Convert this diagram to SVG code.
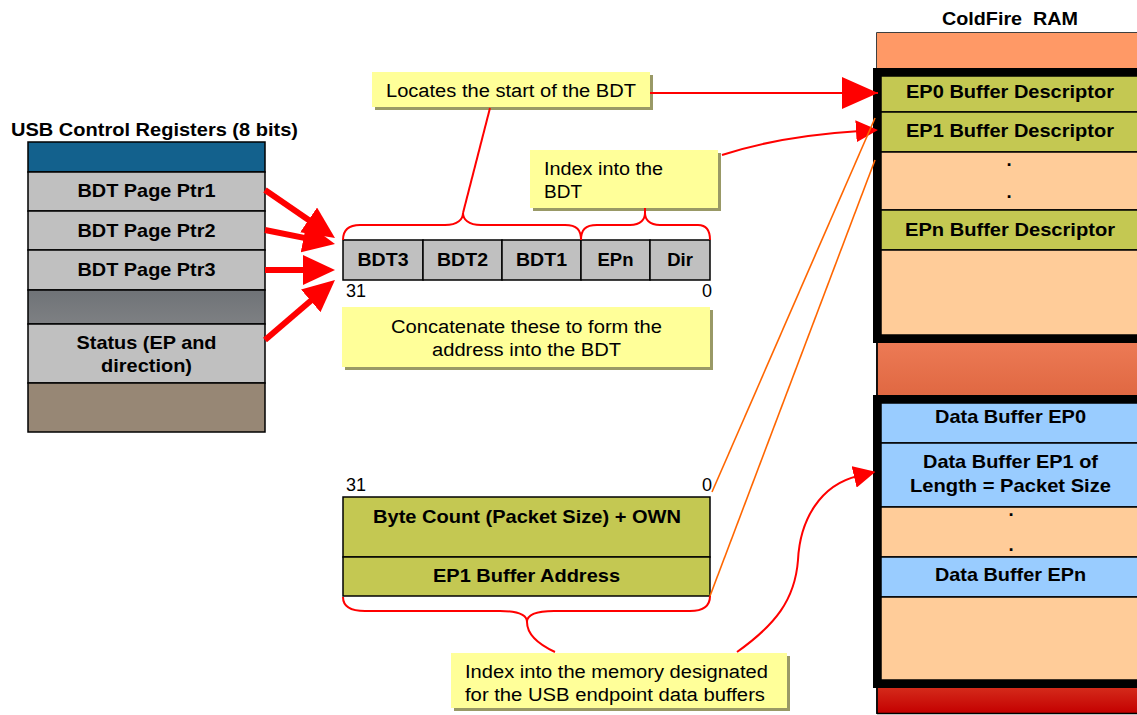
<svg xmlns="http://www.w3.org/2000/svg" width="1137" height="715" viewBox="0 0 1137 715">
<style>
.b{font-family:"Liberation Sans",Arial,sans-serif;font-weight:bold;font-size:18.5px;fill:#000;text-anchor:middle}
.r{font-family:"Liberation Sans",Arial,sans-serif;font-size:18px;fill:#000}
.c{text-anchor:middle}
.cell{stroke:#000;stroke-width:1.5}
.call{fill:#ffff99}
.shad{fill:#999966}
.red{fill:none;stroke:#ff0000;stroke-width:2}
.fat{fill:none;stroke:#ff0000;stroke-width:6}
.org{fill:none;stroke:#ff6600;stroke-width:1.6}
.frame{fill:none;stroke:#000;stroke-width:8}
</style>
<defs>
<marker id="big" markerUnits="userSpaceOnUse" markerWidth="32" markerHeight="30" refX="12" refY="15" orient="auto"><path d="M0,0 L32,15 L0,30 z" fill="#ff0000"/></marker>
<marker id="ep0" markerUnits="userSpaceOnUse" markerWidth="36" markerHeight="32" refX="36" refY="16" orient="auto"><path d="M0,0 L36,16 L0,32 z" fill="#ff0000"/></marker>
<marker id="sm" markerUnits="userSpaceOnUse" markerWidth="22" markerHeight="22" refX="4" refY="11" orient="auto"><path d="M0,0 L22,11 L0,22 z" fill="#ff0000"/></marker>
<linearGradient id="midg" x1="0" y1="0" x2="0" y2="1"><stop offset="0" stop-color="#ec7a55"/><stop offset="1" stop-color="#e06842"/></linearGradient>
<linearGradient id="botg" x1="0" y1="0" x2="0" y2="1"><stop offset="0" stop-color="#d42a1a"/><stop offset="1" stop-color="#c40000"/></linearGradient>
<linearGradient id="grayg" x1="0" y1="0" x2="0" y2="1"><stop offset="0" stop-color="#6f7377"/><stop offset="1" stop-color="#7e8083"/></linearGradient>
</defs>

<g id="usb-registers">
<text class="b" x="154.5" y="136" textLength="287" lengthAdjust="spacingAndGlyphs">USB Control Registers (8 bits)</text>
<rect class="cell" x="28" y="142" width="237" height="30" fill="#13618d"/>
<rect class="cell" x="28" y="172" width="237" height="39" fill="#c0c0c0"/>
<rect class="cell" x="28" y="211" width="237" height="39" fill="#c0c0c0"/>
<rect class="cell" x="28" y="250" width="237" height="40" fill="#c0c0c0"/>
<rect class="cell" x="28" y="290" width="237" height="34" fill="url(#grayg)"/>
<rect class="cell" x="28" y="324" width="237" height="59" fill="#c0c0c0"/>
<rect class="cell" x="28" y="383" width="237" height="49" fill="#978775"/>
<text class="b" x="146.5" y="197" textLength="138" lengthAdjust="spacingAndGlyphs">BDT Page Ptr1</text>
<text class="b" x="146.5" y="237" textLength="138" lengthAdjust="spacingAndGlyphs">BDT Page Ptr2</text>
<text class="b" x="146.5" y="276" textLength="138" lengthAdjust="spacingAndGlyphs">BDT Page Ptr3</text>
<text class="b" x="146.5" y="349" textLength="140" lengthAdjust="spacingAndGlyphs">Status (EP and</text>
<text class="b" x="146.5" y="372" textLength="91" lengthAdjust="spacingAndGlyphs">direction)</text>
</g>

<g id="bdt-address">
<rect class="cell" x="343" y="240" width="80" height="40" fill="#c0c0c0"/>
<rect class="cell" x="423" y="240" width="79" height="40" fill="#c0c0c0"/>
<rect class="cell" x="502" y="240" width="79" height="40" fill="#c0c0c0"/>
<rect class="cell" x="581" y="240" width="69" height="40" fill="#c0c0c0"/>
<rect class="cell" x="650" y="240" width="60" height="40" fill="#c0c0c0"/>
<text class="b" x="383" y="266" textLength="51" lengthAdjust="spacingAndGlyphs">BDT3</text>
<text class="b" x="462.5" y="266" textLength="51" lengthAdjust="spacingAndGlyphs">BDT2</text>
<text class="b" x="541.5" y="266" textLength="51" lengthAdjust="spacingAndGlyphs">BDT1</text>
<text class="b" x="615.5" y="266">EPn</text>
<text class="b" x="680" y="266">Dir</text>
<text class="r" x="346" y="297">31</text>
<text class="r" x="712" y="297" text-anchor="end">0</text>
</g>

<g id="buffer-descriptor">
<text class="r" x="346" y="491">31</text>
<text class="r" x="712" y="491" text-anchor="end">0</text>
<rect class="cell" x="343" y="497" width="367" height="60" fill="#c4c852"/>
<rect class="cell" x="343" y="557" width="367" height="39" fill="#c4c852"/>
<text class="b" x="527" y="523" textLength="308" lengthAdjust="spacingAndGlyphs">Byte Count (Packet Size) + OWN</text>
<text class="b" x="526.5" y="582" textLength="187" lengthAdjust="spacingAndGlyphs">EP1 Buffer Address</text>
</g>

<g id="callout-locates">
<rect class="shad" x="375" y="75" width="278" height="35"/>
<rect class="call" x="372" y="72" width="278" height="35"/>
<text class="r c" x="511" y="97" textLength="250" lengthAdjust="spacingAndGlyphs">Locates the start of the BDT</text>
</g>

<g id="callout-index-bdt">
<rect class="shad" x="533" y="153" width="188" height="58"/>
<rect class="call" x="530" y="150" width="188" height="58"/>
<text class="r" x="544" y="175" textLength="119" lengthAdjust="spacingAndGlyphs">Index into the</text>
<text class="r" x="544" y="198" textLength="38" lengthAdjust="spacingAndGlyphs">BDT</text>
</g>

<g id="callout-concatenate">
<rect class="shad" x="345" y="310" width="368" height="60"/>
<rect class="call" x="342" y="307" width="368" height="60"/>
<text class="r c" x="526.5" y="333" textLength="271" lengthAdjust="spacingAndGlyphs">Concatenate these to form the</text>
<text class="r c" x="526.5" y="356" textLength="189" lengthAdjust="spacingAndGlyphs">address into the BDT</text>
</g>

<g id="callout-index-memory">
<rect class="shad" x="454" y="656" width="336" height="55"/>
<rect class="call" x="451" y="653" width="336" height="55"/>
<text class="r" x="465" y="678" textLength="303" lengthAdjust="spacingAndGlyphs">Index into the memory designated</text>
<text class="r" x="465" y="701" textLength="300" lengthAdjust="spacingAndGlyphs">for the USB endpoint data buffers</text>
</g>

<g id="coldfire-ram">
<text class="b" x="1010" y="25" textLength="136" lengthAdjust="spacingAndGlyphs" style="white-space:pre">ColdFire  RAM</text>
<rect x="877" y="33" width="270" height="680" fill="#ffcc99" stroke="#000" stroke-width="1.5"/>
<rect x="877" y="33" width="270" height="37" fill="#ff9966"/>
<rect class="cell" x="881" y="76" width="266" height="36" fill="#c4c852"/>
<rect class="cell" x="881" y="112" width="266" height="40" fill="#c4c852"/>
<rect class="cell" x="881" y="152" width="266" height="58" fill="#ffcc99"/>
<rect class="cell" x="881" y="210" width="266" height="40" fill="#c4c852"/>
<rect class="cell" x="881" y="250" width="266" height="85" fill="#ffcc99"/>
<rect class="frame" x="877" y="72" width="270" height="267"/>
<rect x="877.75" y="343" width="270" height="52" fill="url(#midg)"/>
<rect class="cell" x="881" y="403" width="266" height="40" fill="#99ccff"/>
<rect class="cell" x="881" y="443" width="266" height="64" fill="#99ccff"/>
<rect class="cell" x="881" y="507" width="266" height="50" fill="#ffcc99"/>
<rect class="cell" x="881" y="557" width="266" height="40" fill="#99ccff"/>
<rect class="cell" x="881" y="597" width="266" height="83" fill="#ffcc99"/>
<rect class="frame" x="877" y="399" width="270" height="285"/>
<rect x="877.75" y="688" width="270" height="25" fill="url(#botg)"/>
<line x1="877" y1="343" x2="877" y2="395" stroke="#000" stroke-width="1.5"/>
<line x1="877" y1="688" x2="877" y2="714" stroke="#000" stroke-width="1.5"/>
<line x1="877" y1="713.5" x2="1137" y2="713.5" stroke="#000" stroke-width="1.5"/>
<text class="b" x="1010" y="98" textLength="208" lengthAdjust="spacingAndGlyphs">EP0 Buffer Descriptor</text>
<text class="b" x="1010" y="137" textLength="208" lengthAdjust="spacingAndGlyphs">EP1 Buffer Descriptor</text>
<text class="b" x="1009" y="166">.</text>
<text class="b" x="1009" y="198">.</text>
<text class="b" x="1010" y="236" textLength="210" lengthAdjust="spacingAndGlyphs">EPn Buffer Descriptor</text>
<text class="b" x="1010.5" y="423" textLength="151" lengthAdjust="spacingAndGlyphs">Data Buffer EP0</text>
<text class="b" x="1010.5" y="468" textLength="175" lengthAdjust="spacingAndGlyphs">Data Buffer EP1 of</text>
<text class="b" x="1010.5" y="492" textLength="201" lengthAdjust="spacingAndGlyphs">Length = Packet Size</text>
<text class="b" x="1011" y="516">.</text>
<text class="b" x="1011" y="551">.</text>
<text class="b" x="1010.5" y="581" textLength="151" lengthAdjust="spacingAndGlyphs">Data Buffer EPn</text>
</g>

<g id="connectors">
<line class="fat" x1="265" y1="190" x2="318.5" y2="226.7" marker-end="url(#big)"/>
<line class="fat" x1="265" y1="230" x2="315.4" y2="240.1" marker-end="url(#big)"/>
<line class="fat" x1="265" y1="270" x2="315" y2="270" marker-end="url(#big)"/>
<line class="fat" x1="265" y1="340" x2="319.8" y2="293" marker-end="url(#big)"/>
<path class="red" d="M343,240 C343,230 348,225 360,225 L445,225 C458,225 463,219 463,213 C463,219 468,225 481,225 L565,225 C577,225 581,230 581,240"/>
<path class="red" d="M581,240 C581,230 585,225 597,225 L630,225 C641,225 645,219 645,213 C645,219 649,225 660,225 L698,225 C706,225 710,230 710,240"/>
<line class="red" x1="463" y1="213" x2="490" y2="108"/>
<line class="red" x1="645" y1="213" x2="645" y2="208"/>
<line class="red" x1="650" y1="93" x2="878" y2="93" stroke-width="2.5" marker-end="url(#ep0)"/>
<path class="red" d="M722,155 Q780,136 860,131" marker-end="url(#sm)"/>
<path class="red" d="M343,597 C343,606 350,611 365,611 L500,611 C518,611 527,615 527,622 C527,615 536,611 554,611 L690,611 C704,611 710,606 710,596"/>
<path class="red" d="M527,622 C527,635 540,645 555,652"/>
<path class="red" d="M737,652 C775,625 795,600 798,560 C800,520 820,485 858,476" marker-end="url(#sm)"/>
<line class="org" x1="712" y1="492" x2="875" y2="118"/>
<line class="org" x1="710" y1="596" x2="875" y2="160"/>
</g>
</svg>
